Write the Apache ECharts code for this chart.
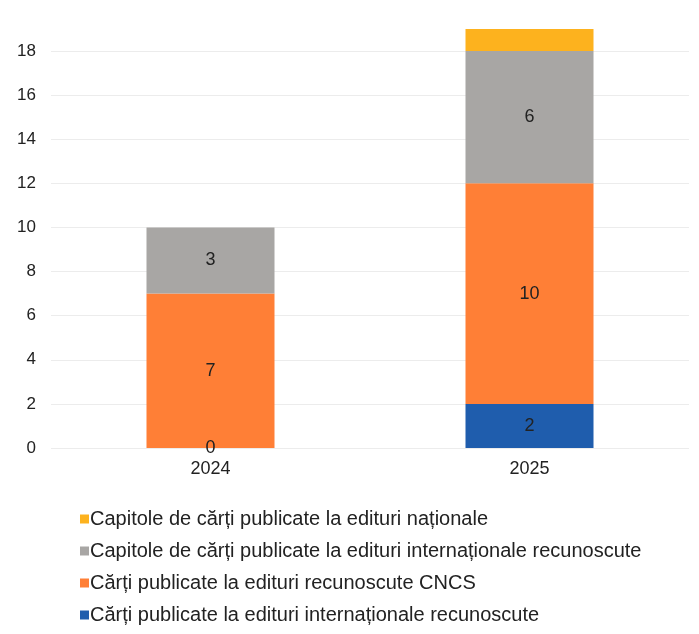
<!DOCTYPE html>
<html><head><meta charset="utf-8">
<script src="https://cdn.jsdelivr.net/npm/echarts@6/dist/echarts.min.js"></script>
<style>html,body{margin:0;padding:0;background:#fff}#c{width:699px;height:634px}</style>
</head><body><div id="c"></div>
<script>
const categories = ['2024', '2025'];
const seriesNames = [
  'Cărți publicate la edituri internaționale recunoscute',
  'Cărți publicate la edituri recunoscute CNCS',
  'Capitole de cărți publicate la edituri internaționale recunoscute',
  'Capitole de cărți publicate la edituri naționale'
];
const intlBooks = [0, 2];
const cncsBooks = [7, 10];
const intlChapters = [3, 6];
const natChapters = [0, 1];
const colors = ['#1F5DAD', '#FF7F36', '#A8A6A4', '#FDB21E'];
const showLabels = [true, true, true, false];
const values = [intlBooks, cncsBooks, intlChapters, natChapters];

const font = 'Liberation Sans, Arial, sans-serif';
const chart = echarts.init(document.getElementById('c'));
chart.setOption({
  animation: false,
  grid: {left: 51, right: 10, top: 51, bottom: 186},
  legend: {
    orient: 'vertical', left: 75, top: 504, itemGap: 12,
    itemWidth: 9, itemHeight: 9, icon: 'rect', itemStyle: {borderWidth: 0},
    data: seriesNames.slice().reverse(),
    textStyle: {fontFamily: font, fontSize: 20, color: '#222', padding: [0, 0, 0, -4]}
  },
  xAxis: {
    type: 'category', data: categories,
    axisLine: {show: false}, axisTick: {show: false},
    axisLabel: {fontFamily: font, fontSize: 18, color: '#222', margin: 12}
  },
  yAxis: {
    type: 'value', min: 0, max: 18, interval: 2,
    axisLine: {show: false}, axisTick: {show: false},
    axisLabel: {fontFamily: font, fontSize: 17, color: '#222', margin: 15},
    splitLine: {lineStyle: {color: '#ECECEC', width: 1}}
  },
  series: seriesNames.map((n, i) => ({
    name: n, type: 'bar', stack: 'a', data: values[i], barWidth: 128, clip: false,
    itemStyle: {color: colors[i]},
    label: {show: showLabels[i], position: 'inside', fontFamily: font, fontSize: 18, color: '#222'}
  }))
});
</script></body></html>
